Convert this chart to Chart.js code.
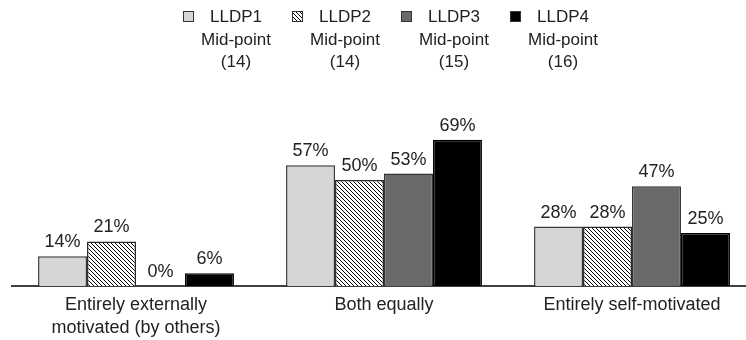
<!DOCTYPE html>
<html lang="en">
<head>
    <meta charset="UTF-8">
    <title>Motivation by LLDP</title>
    <script src="https://cdn.jsdelivr.net/npm/chart.js"></script>
    <style>
        html, body {
            margin: 0;
            padding: 0;
            background: #ffffff;
            overflow: hidden;
        }

        /* canvas is a bit larger than the window, the right/bottom edges get cut off like the source */
        .chart-box {
            width: 760px;
            height: 348px;
        }
    </style>
</head>
<body>
    <div class="chart-box">
        <canvas id="motivation_chart" width="760" height="348"></canvas>
    </div>

    <script>
        // data
        const categories = [
            ['Entirely externally', 'motivated (by others)'],
            'Both equally',
            'Entirely self-motivated'
        ];
        const seriesNames = ['LLDP1', 'LLDP2', 'LLDP3', 'LLDP4'];
        const midPoints = [14, 14, 15, 16];
        const lldp1 = [14, 57, 28];
        const lldp2 = [21, 50, 28];
        const lldp3 = [0, 53, 47];
        const lldp4 = [6, 69, 25];

        const FONT = "'Liberation Sans', Arial, sans-serif";
        const TEXT_COLOR = '#222222';

        // diagonal hatch for LLDP2
        function makeHatch() {
            const c = document.createElement('canvas');
            c.width = 4;
            c.height = 4;
            const g = c.getContext('2d');
            g.fillStyle = '#ffffff';
            g.fillRect(0, 0, 4, 4);
            g.strokeStyle = '#000000';
            g.lineWidth = 1;
            g.beginPath();
            g.moveTo(0, 0); g.lineTo(4, 4);
            g.moveTo(-1, 3); g.lineTo(1, 5);
            g.moveTo(3, -1); g.lineTo(5, 1);
            g.stroke();
            return g.createPattern(c, 'repeat');
        }

        const hatch = makeHatch();
        const fills = ['#d6d6d6', hatch, '#6a6a6a', '#000000'];
        const borders = ['#3a3a3a', '#2a2a2a', '#333333', '#000000'];
        const seriesData = [lldp1, lldp2, lldp3, lldp4];

        // legend: box + name, then "Mid-point" and "(n)" centred under the name
        const legendPlugin = {
            id: 'midpointLegend',
            afterDraw(chart) {
                const ctx = chart.ctx;
                ctx.save();
                ctx.font = '17px ' + FONT;
                ctx.textBaseline = 'middle';
                ctx.textAlign = 'left';
                const startX = 183;
                const step = 109;
                seriesNames.forEach((name, i) => {
                    const bx = startX + i * step;
                    ctx.fillStyle = fills[i];
                    ctx.fillRect(bx, 11, 11, 11);
                    ctx.strokeStyle = '#333333';
                    ctx.lineWidth = 1;
                    ctx.strokeRect(bx + 0.5, 11.5, 10, 10);

                    const tx = bx + 27;
                    const w = ctx.measureText(name).width;
                    ctx.fillStyle = TEXT_COLOR;
                    ctx.textAlign = 'left';
                    ctx.fillText(name, tx, 17);
                    ctx.textAlign = 'center';
                    ctx.fillText('Mid-point', tx + w / 2, 40);
                    ctx.fillText('(' + midPoints[i] + ')', tx + w / 2, 62);
                });
                ctx.restore();
            }
        };

        // percentage above each bar
        const valueLabels = {
            id: 'valueLabels',
            afterDatasetsDraw(chart) {
                const ctx = chart.ctx;
                ctx.save();
                ctx.font = '18px ' + FONT;
                ctx.fillStyle = TEXT_COLOR;
                ctx.textAlign = 'center';
                ctx.textBaseline = 'middle';
                chart.data.datasets.forEach((ds, i) => {
                    chart.getDatasetMeta(i).data.forEach((bar, j) => {
                        ctx.fillText(ds.data[j] + '%', bar.x, bar.y - 14);
                    });
                });
                ctx.restore();
            }
        };

        const ctx = document.getElementById('motivation_chart').getContext('2d');
        const chart = new Chart(ctx, {
            type: 'bar',
            data: {
                labels: categories,
                datasets: seriesNames.map((name, i) => ({
                    label: name,
                    data: seriesData[i],
                    backgroundColor: fills[i],
                    borderColor: borders[i],
                    borderWidth: c => (c.raw === 0 ? 0 : 1.5),
                    categoryPercentage: 0.79,
                    barPercentage: 1.0
                }))
            },
            options: {
                responsive: false,
                animation: false,
                layout: {
                    padding: { top: 74, left: 12, right: 4, bottom: 0 }
                },
                plugins: {
                    legend: { display: false },
                    tooltip: { enabled: false }
                },
                scales: {
                    x: {
                        grid: { display: false, drawTicks: false, tickLength: 0 },
                        border: { display: true, color: '#404040', width: 2 },
                        ticks: {
                            color: TEXT_COLOR,
                            font: { family: FONT, size: 18, lineHeight: 1.28 },
                            padding: 8,
                            maxRotation: 0,
                            autoSkip: false
                        }
                    },
                    y: {
                        display: false,
                        min: 0,
                        max: 100
                    }
                }
            },
            plugins: [legendPlugin, valueLabels]
        });
    </script>
</body>
</html>
